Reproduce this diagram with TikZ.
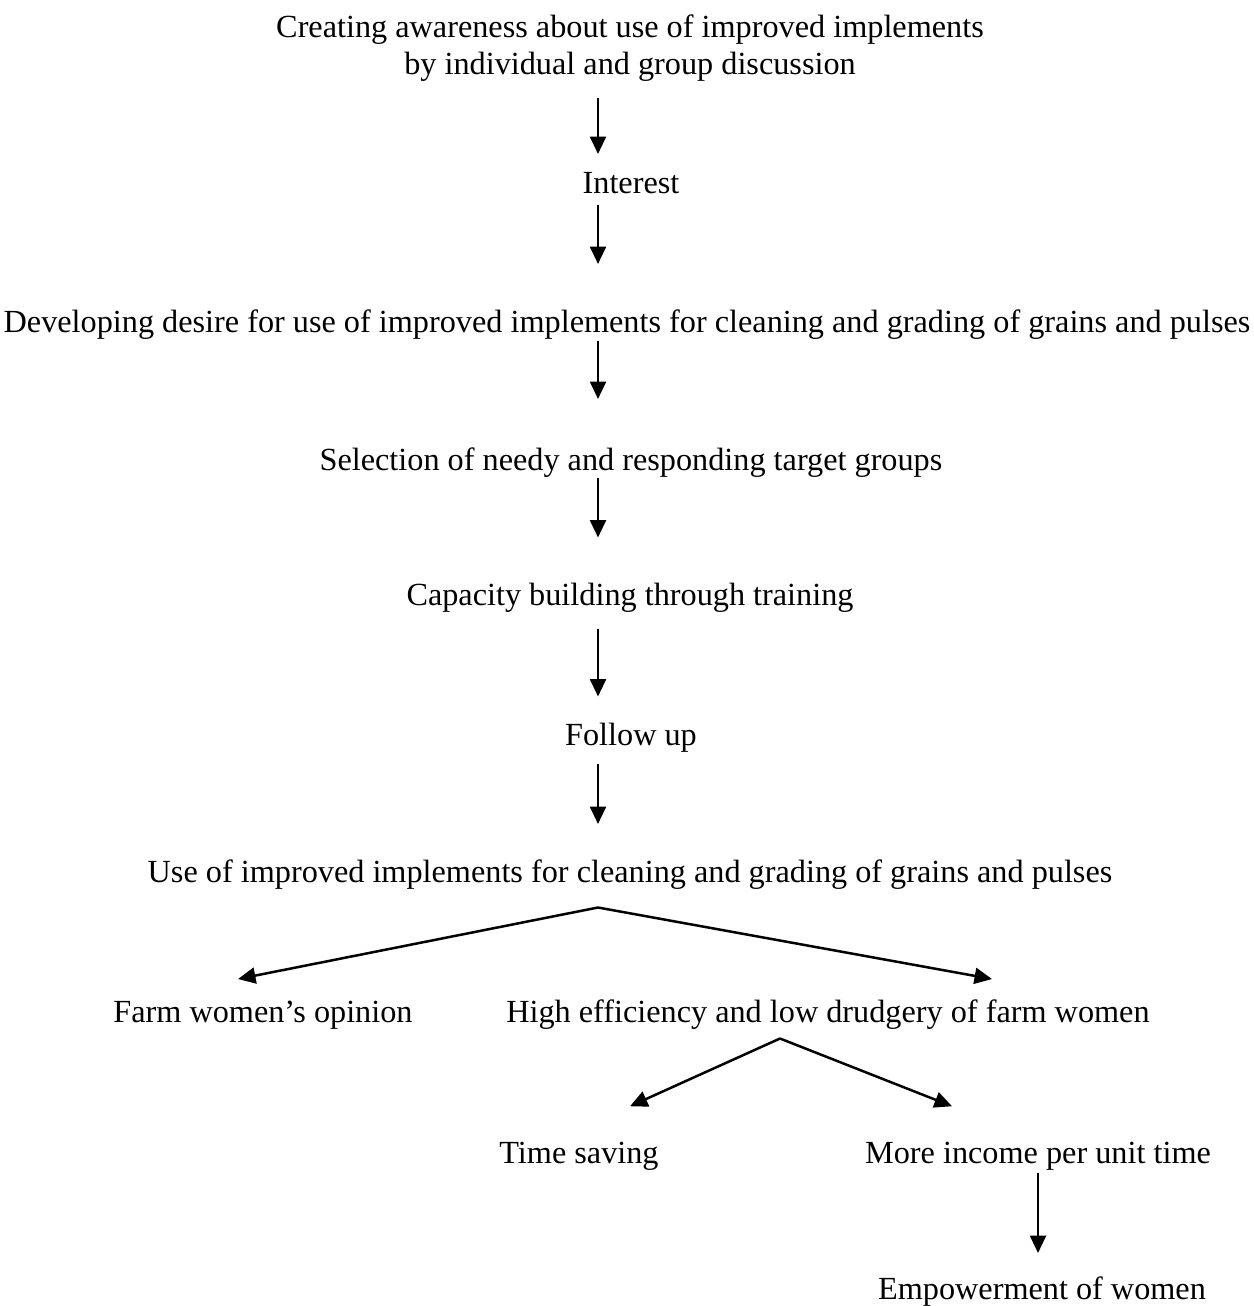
\documentclass[tikz,border=0pt]{standalone}
\usepackage{fontspec}
\setmainfont{Liberation Serif}
\usetikzlibrary{arrows.meta}

\begin{document}
\begin{tikzpicture}[x=0.4pt,y=-0.4pt,
        step node/.style={inner sep=0pt,text height=8.5pt,text depth=0pt,anchor=base,
            font=\fontsize{12.9}{14.8}\selectfont},
        arr/.style={-{Triangle[length=7pt,width=6.4pt]},line width=1pt}]

    \useasboundingbox (0,0) rectangle (1253,1306);
    \coordinate (axis) at (598,0);

    \node[inner sep=0pt,align=center,anchor=north,font=\fontsize{12.9}{14.8}\selectfont] (1) at (630,14)
        {Creating awareness about use of improved implements\\by individual and group discussion};
    \node[step node] (2) at (631,193) {Interest};
    \node[step node] (3) at (627,332) {Developing desire for use of improved implements for cleaning and grading of grains and pulses};
    \node[step node] (4) at (631,470) {Selection of needy and responding target groups};
    \node[step node] (5) at (630,605) {Capacity building through training};
    \node[step node] (6) at (631,745) {Follow up};
    \node[step node] (7) at (630,882) {Use of improved implements for cleaning and grading of grains and pulses};
    \node[step node] (8) at (263,1022) {Farm women’s opinion};
    \node[step node] (9) at (828,1022) {High efficiency and low drudgery of farm women};
    \node[step node] (10) at (579,1163) {Time saving};
    \node[step node] (11) at (1038,1163) {More income per unit time};
    \node[step node] (12) at (1042,1299) {Empowerment of women};

    \path[arr]
    (1.south -| axis) edge[shorten <=6.6pt,shorten >=6.9pt] (2.north -| axis)
    (2.south -| axis) edge[shorten <=4.4pt,shorten >=18.5pt] (3.north -| axis)
    (3.south -| axis) edge[shorten <=3.2pt,shorten >=19.7pt] (4.north -| axis)
    (4.south -| axis) edge[shorten <=2.8pt,shorten >=18.3pt] (5.north -| axis)
    (5.south -| axis) edge[shorten <=9.2pt,shorten >=10.7pt] (6.north -| axis)
    (6.south -| axis) edge[shorten <=7.2pt,shorten >=14.5pt] (7.north -| axis);

    \coordinate (split) at ([yshift=-10pt]7.south -| axis);
    \coordinate (split2) at ([xshift=-19.2pt,yshift=-6.4pt]9.south);
    \path[arr]
    (split) edge ([xshift=-10pt,yshift=8.5pt]8.north)
    (split) edge ([xshift=65.6pt,yshift=8.5pt]9.north)
    (split2) edge ([xshift=20.4pt,yshift=14pt]10.north)
    (split2) edge ([xshift=-34.4pt,yshift=14pt]11.north)
    (11.south) edge[shorten <=3.6pt,shorten >=9.7pt] (11.south |- 12.north);

\end{tikzpicture}
\end{document}
